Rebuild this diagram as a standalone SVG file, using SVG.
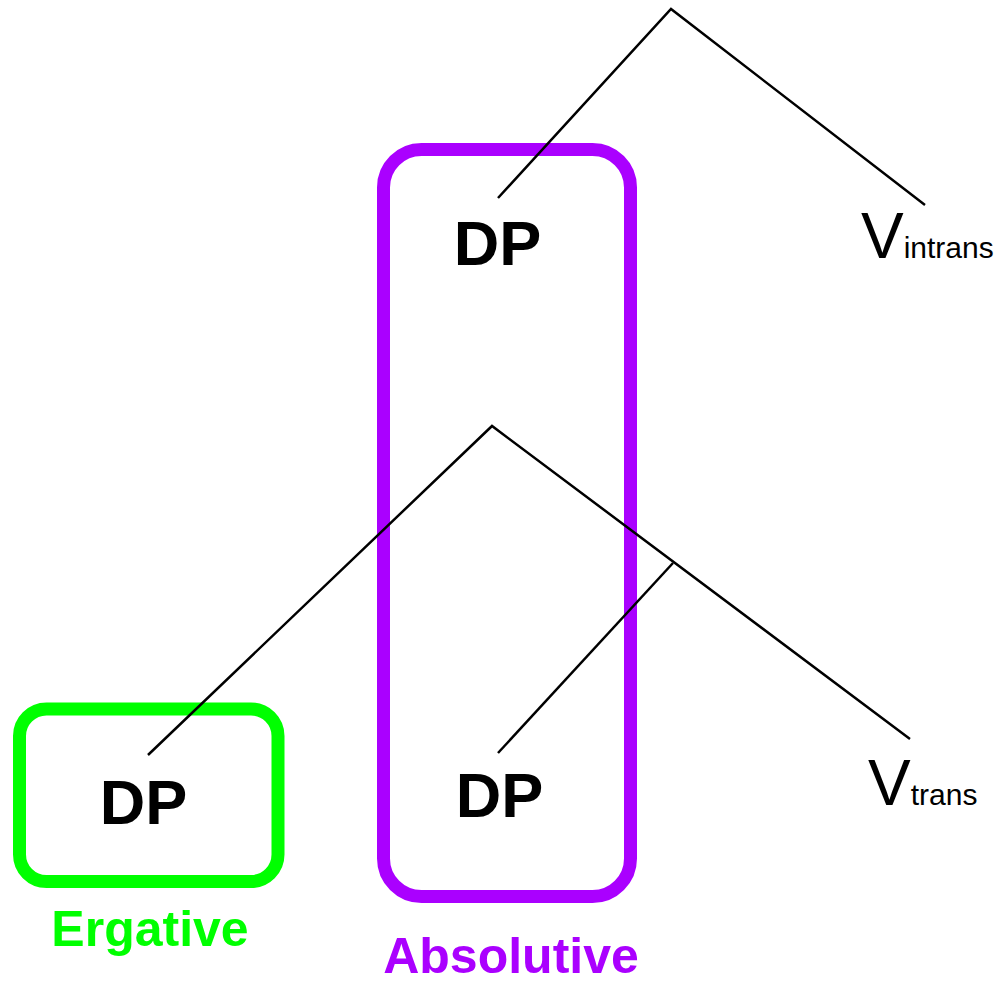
<svg xmlns="http://www.w3.org/2000/svg" width="998" height="983" viewBox="0 0 998 983">
<style>
.box{fill:none;stroke-width:13}
.abs{stroke:#AA00FF}
.erg{stroke:#00FF00}
.edge{stroke:#000;stroke-width:2.5;fill:none;stroke-linecap:butt}
.dp{font-family:"Liberation Sans",Arial,sans-serif;font-weight:bold;font-size:63px;fill:#000;text-anchor:middle}
.v{font-family:"Liberation Sans",Arial,sans-serif;font-size:64px;fill:#000}
.sub{font-size:30px}
.lbl{font-family:"Liberation Sans",Arial,sans-serif;font-weight:bold;font-size:50px;text-anchor:middle}
</style>
<rect width="998" height="983" fill="#fff"/>
<g id="absolutive-box">
<rect class="box abs" x="383.5" y="149.5" width="247" height="747" rx="38" ry="38"/>
<text class="lbl" x="511" y="973" fill="#AA00FF">Absolutive</text>
</g>
<g id="ergative-box">
<rect class="box erg" x="19.5" y="709" width="258.5" height="172.5" rx="27" ry="27"/>
<text class="lbl" x="150" y="946" fill="#00FF00">Ergative</text>
</g>
<g id="connectors">
<polyline class="edge" points="498,198 671,9 925,205"/>
<polyline class="edge" points="148,755 492,426 910,739"/>
<line class="edge" x1="673" y1="563" x2="498" y2="753"/>
</g>
<g id="dp-abs-top"><text class="dp" x="497.5" y="265">DP</text></g>
<g id="v-intrans"><text class="v" x="861" y="258">V<tspan class="sub">intrans</tspan></text></g>
<g id="dp-abs-bottom"><text class="dp" x="499.5" y="817">DP</text></g>
<g id="dp-erg"><text class="dp" x="143.5" y="824">DP</text></g>
<g id="v-trans"><text class="v" x="868" y="805">V<tspan class="sub">trans</tspan></text></g>
</svg>
